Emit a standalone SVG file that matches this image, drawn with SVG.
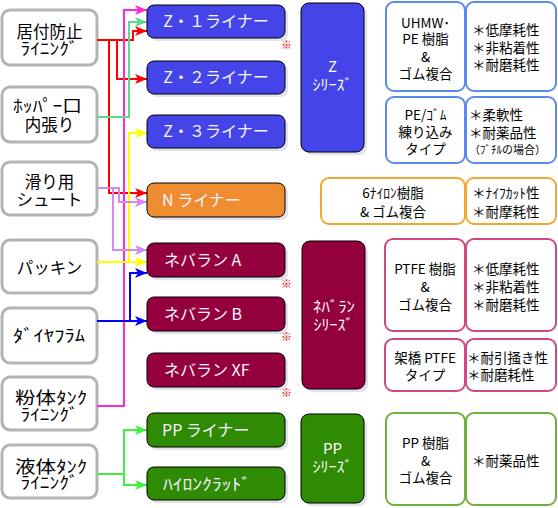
<svg xmlns="http://www.w3.org/2000/svg" width="558" height="508" viewBox="0 0 558 508">
<style>
text{font-family:"Noto Sans CJK JP","Noto Sans",sans-serif}
.src rect.b{fill:#fff;stroke:#b4b4b4;stroke-width:3}
.sh{fill:#e2e2ea}
.lt{font-size:16.5px;fill:#000;text-anchor:middle}
.mid rect.b{stroke:#000;stroke-width:1}
.mt{font-size:16px;fill:#f4f4ff}
.st{font-size:15px;fill:#fff;text-anchor:middle}
.tt{font-size:13.5px;fill:#000;text-anchor:middle}
.tr{font-size:13.5px;fill:#000}
.cell{fill:#fff;stroke-width:2}
.mark{font-size:11px;fill:#f00000}
.con path{fill:none;stroke-width:2}
</style>
<defs>
<marker id="aR" viewBox="0 0 12 10" refX="12" refY="5" markerWidth="12" markerHeight="10" markerUnits="userSpaceOnUse" orient="auto"><path d="M0,0L12,5L0,10L3,5z" fill="#ff0000"/></marker>
<marker id="aP" viewBox="0 0 12 10" refX="12" refY="5" markerWidth="12" markerHeight="10" markerUnits="userSpaceOnUse" orient="auto"><path d="M0,0L12,5L0,10L3,5z" fill="#ff28d8"/></marker>
<marker id="aG" viewBox="0 0 12 10" refX="12" refY="5" markerWidth="12" markerHeight="10" markerUnits="userSpaceOnUse" orient="auto"><path d="M0,0L12,5L0,10L3,5z" fill="#60d890"/></marker>
<marker id="aY" viewBox="0 0 12 10" refX="12" refY="5" markerWidth="12" markerHeight="10" markerUnits="userSpaceOnUse" orient="auto"><path d="M0,0L12,5L0,10L3,5z" fill="#ffff00"/></marker>
<marker id="aV" viewBox="0 0 12 10" refX="12" refY="5" markerWidth="12" markerHeight="10" markerUnits="userSpaceOnUse" orient="auto"><path d="M0,0L12,5L0,10L3,5z" fill="#d488f0"/></marker>
<marker id="aB" viewBox="0 0 12 10" refX="12" refY="5" markerWidth="12" markerHeight="10" markerUnits="userSpaceOnUse" orient="auto"><path d="M0,0L12,5L0,10L3,5z" fill="#0000ff"/></marker>
<marker id="aL" viewBox="0 0 12 10" refX="12" refY="5" markerWidth="12" markerHeight="10" markerUnits="userSpaceOnUse" orient="auto"><path d="M0,0L12,5L0,10L3,5z" fill="#40f040"/></marker>
</defs>
<rect width="558" height="508" fill="#fff"/>

<!-- source nodes -->
<g class="src" id="n-isuki"><rect class="b" x="2" y="10" width="95" height="55" rx="8"/><text class="lt" x="49.5" y="38">居付防止</text><text class="lt" x="49.5" y="55" textLength="58" lengthAdjust="spacingAndGlyphs">ﾗｲﾆﾝｸﾞ</text></g>
<g class="src" id="n-hopper"><rect class="b" x="2" y="87" width="95" height="55" rx="8"/><text class="lt" x="47.5" y="112" textLength="69" lengthAdjust="spacingAndGlyphs">ﾎｯﾊﾟｰ口</text><text class="lt" x="49.5" y="131">内張り</text></g>
<g class="src" id="n-chute"><rect class="b" x="2" y="162" width="95" height="53" rx="8"/><text class="lt" x="49.5" y="188">滑り用</text><text class="lt" x="49.5" y="206">シュート</text></g>
<g class="src" id="n-packing"><rect class="b" x="2" y="240" width="95" height="53" rx="8"/><text class="lt" x="49.5" y="274">パッキン</text></g>
<g class="src" id="n-diaphragm"><rect class="b" x="2" y="308" width="95" height="55" rx="8"/><text class="lt" x="49" y="342" textLength="72" lengthAdjust="spacingAndGlyphs">ﾀﾞｲﾔﾌﾗﾑ</text></g>
<g class="src" id="n-powder"><rect class="b" x="2" y="377" width="95" height="53" rx="8"/><text class="lt" x="51" y="404" textLength="72" lengthAdjust="spacingAndGlyphs">粉体ﾀﾝｸ</text><text class="lt" x="49.5" y="421" textLength="58" lengthAdjust="spacingAndGlyphs">ﾗｲﾆﾝｸﾞ</text></g>
<g class="src" id="n-liquid"><rect class="b" x="2" y="445" width="95" height="53" rx="8"/><text class="lt" x="51" y="473" textLength="72" lengthAdjust="spacingAndGlyphs">液体ﾀﾝｸ</text><text class="lt" x="49.5" y="489" textLength="58" lengthAdjust="spacingAndGlyphs">ﾗｲﾆﾝｸﾞ</text></g>

<!-- connectors -->
<g class="con" id="connectors">
<path d="M97,40H133V31H147" stroke="#ff0000" marker-end="url(#aR)"/>
<path d="M109,40V193H147" stroke="#ff0000" marker-end="url(#aR)"/>
<path d="M117,40V79H147" stroke="#ff0000" marker-end="url(#aR)"/>
<path d="M97,406H124V10H147" stroke="#ff28d8" marker-end="url(#aP)"/>
<path d="M97,117H129V22H147" stroke="#60d890" marker-end="url(#aG)"/>
<path d="M97,262H147" stroke="#ffff00" marker-end="url(#aY)"/>
<path d="M129,262V133H147" stroke="#ffff00" marker-end="url(#aY)"/>
<path d="M97,188H119V202H147" stroke="#d488f0" marker-end="url(#aV)"/>
<path d="M113,188V250H147" stroke="#d488f0" marker-end="url(#aV)"/>
<path d="M97,321H147" stroke="#0000ff" marker-end="url(#aB)"/>
<path d="M130,321V273H147" stroke="#0000ff" marker-end="url(#aB)"/>
<path d="M97,474H124V430H147" stroke="#40f040" marker-end="url(#aL)"/>
<path d="M124,474V485H147" stroke="#40f040" marker-end="url(#aL)"/>
</g>

<!-- middle nodes -->
<g class="mid" id="m-z1"><rect class="sh" x="150" y="8" width="138" height="33" rx="7"/><rect class="b" x="147" y="5" width="138" height="33" rx="7" fill="#4444e8"/><text class="mt" x="216" y="27" text-anchor="middle">Z・１ライナー</text><text class="mark" x="281" y="49">※</text></g>
<g class="mid" id="m-z2"><rect class="sh" x="150" y="64" width="138" height="33" rx="7"/><rect class="b" x="147" y="61" width="138" height="33" rx="7" fill="#4444e8"/><text class="mt" x="216" y="83" text-anchor="middle">Z・２ライナー</text></g>
<g class="mid" id="m-z3"><rect class="sh" x="150" y="118" width="138" height="33" rx="7"/><rect class="b" x="147" y="115" width="138" height="33" rx="7" fill="#4444e8"/><text class="mt" x="216" y="137" text-anchor="middle">Z・３ライナー</text></g>
<g class="mid" id="m-n"><rect class="sh" x="150" y="186" width="138" height="34" rx="7"/><rect class="b" x="147" y="183" width="138" height="34" rx="7" fill="#f08c30"/><text class="mt" x="162" y="206">N ライナー</text></g>
<g class="mid" id="m-nevA"><rect class="sh" x="150" y="246" width="138" height="34" rx="7"/><rect class="b" x="147" y="243" width="138" height="34" rx="7" fill="#94003e"/><text class="mt" x="164" y="266">ネバラン A</text><text class="mark" x="281" y="288">※</text></g>
<g class="mid" id="m-nevB"><rect class="sh" x="150" y="300" width="138" height="34" rx="7"/><rect class="b" x="147" y="297" width="138" height="34" rx="7" fill="#94003e"/><text class="mt" x="164" y="320">ネバラン B</text><text class="mark" x="281" y="341">※</text></g>
<g class="mid" id="m-nevXF"><rect class="sh" x="150" y="356" width="138" height="34" rx="7"/><rect class="b" x="147" y="353" width="138" height="34" rx="7" fill="#94003e"/><text class="mt" x="164" y="376">ネバラン XF</text><text class="mark" x="281" y="397">※</text></g>
<g class="mid" id="m-pp"><rect class="sh" x="150" y="416" width="138" height="34" rx="7"/><rect class="b" x="147" y="413" width="138" height="34" rx="7" fill="#2f8a04"/><text class="mt" x="162" y="436">PP ライナー</text></g>
<g class="mid" id="m-hylon"><rect class="sh" x="150" y="470" width="138" height="33" rx="7"/><rect class="b" x="147" y="467" width="138" height="33" rx="7" fill="#2f8a04"/><text class="mt" x="163" y="490" textLength="88" lengthAdjust="spacingAndGlyphs">ﾊｲﾛﾝｸﾗｯﾄﾞ</text></g>

<!-- series -->
<g class="mid" id="s-z"><rect class="sh" x="304" y="6" width="63" height="149" rx="8"/><rect class="b" x="301" y="3" width="63" height="149" rx="8" fill="#4444e8"/><text class="st" x="332.5" y="72">Z</text><text class="st" x="332.5" y="90" textLength="40" lengthAdjust="spacingAndGlyphs">ｼﾘｰｽﾞ</text></g>
<g class="mid" id="s-nev"><rect class="sh" x="305" y="244" width="63" height="148" rx="8"/><rect class="b" x="302" y="241" width="63" height="148" rx="8" fill="#94003e"/><text class="st" x="334" y="312" textLength="42" lengthAdjust="spacingAndGlyphs">ﾈﾊﾞﾗﾝ</text><text class="st" x="333.5" y="330" textLength="40" lengthAdjust="spacingAndGlyphs">ｼﾘｰｽﾞ</text></g>
<g class="mid" id="s-pp"><rect class="sh" x="304" y="417" width="63" height="89" rx="8"/><rect class="b" x="301" y="414" width="63" height="89" rx="8" fill="#2f8a04"/><text class="st" x="332.5" y="454">PP</text><text class="st" x="332.5" y="472" textLength="40" lengthAdjust="spacingAndGlyphs">ｼﾘｰｽﾞ</text></g>

<!-- tables -->
<g id="t-z1">
<rect class="cell" x="386" y="2" width="79" height="89" rx="8" stroke="#5a8af0"/><rect class="cell" x="466" y="2" width="90" height="89" rx="8" stroke="#5a8af0"/>
<text class="tt" x="425.5" y="28">UHMW･</text><text class="tt" x="425.5" y="44">PE 樹脂</text><text class="tt" x="425.5" y="62">&amp;</text><text class="tt" x="425.5" y="79">ゴム複合</text>
<text class="tr" x="472" y="35">＊低摩耗性</text><text class="tr" x="472" y="53">＊非粘着性</text><text class="tr" x="472" y="70">＊耐磨耗性</text>
</g>
<g id="t-z2">
<rect class="cell" x="386" y="97" width="79" height="66" rx="8" stroke="#5a8af0"/><rect class="cell" x="466" y="97" width="90" height="66" rx="8" stroke="#5a8af0"/>
<text class="tt" x="425.5" y="120">PE/ｺﾞﾑ</text><text class="tt" x="425.5" y="137">練り込み</text><text class="tt" x="425.5" y="154">タイプ</text>
<text class="tr" x="469" y="120">＊柔軟性</text><text class="tr" x="469" y="138">＊耐薬品性</text><text class="tr" x="469" y="154" style="font-size:11px">（ﾌﾞﾁﾙの場合）</text>
</g>
<g id="t-n">
<rect class="cell" x="321" y="178" width="144" height="46" rx="8" stroke="#f0a830"/><rect class="cell" x="466" y="178" width="90" height="46" rx="8" stroke="#f0a830"/>
<text class="tt" x="393" y="198">6ﾅｲﾛﾝ樹脂</text><text class="tt" x="393" y="217">&amp; ゴム複合</text>
<text class="tr" x="472" y="198">＊ﾅｲﾌｶｯﾄ性</text><text class="tr" x="472" y="217">＊耐摩耗性</text>
</g>
<g id="t-nev1">
<rect class="cell" x="385" y="239" width="80" height="92" rx="8" stroke="#d04880"/><rect class="cell" x="466" y="239" width="90" height="92" rx="8" stroke="#d04880"/>
<text class="tt" x="425" y="274">PTFE 樹脂</text><text class="tt" x="425" y="292">&amp;</text><text class="tt" x="425" y="310">ゴム複合</text>
<text class="tr" x="472" y="274">＊低摩耗性</text><text class="tr" x="472" y="292">＊非粘着性</text><text class="tr" x="472" y="310">＊耐磨耗性</text>
</g>
<g id="t-nev2">
<rect class="cell" x="385" y="339" width="80" height="52" rx="8" stroke="#d04880"/><rect class="cell" x="466" y="339" width="90" height="52" rx="8" stroke="#d04880"/>
<text class="tt" x="425" y="363">架橋 PTFE</text><text class="tt" x="425" y="380">タイプ</text>
<text class="tr" x="467" y="363">＊耐引掻き性</text><text class="tr" x="467" y="380">＊耐磨耗性</text>
</g>
<g id="t-pp">
<rect class="cell" x="386" y="413" width="79" height="92" rx="8" stroke="#70b040"/><rect class="cell" x="466" y="413" width="90" height="92" rx="8" stroke="#70b040"/>
<text class="tt" x="425.5" y="448">PP 樹脂</text><text class="tt" x="425.5" y="466">&amp;</text><text class="tt" x="425.5" y="483">ゴム複合</text>
<text class="tr" x="472" y="466">＊耐薬品性</text>
</g>
</svg>
